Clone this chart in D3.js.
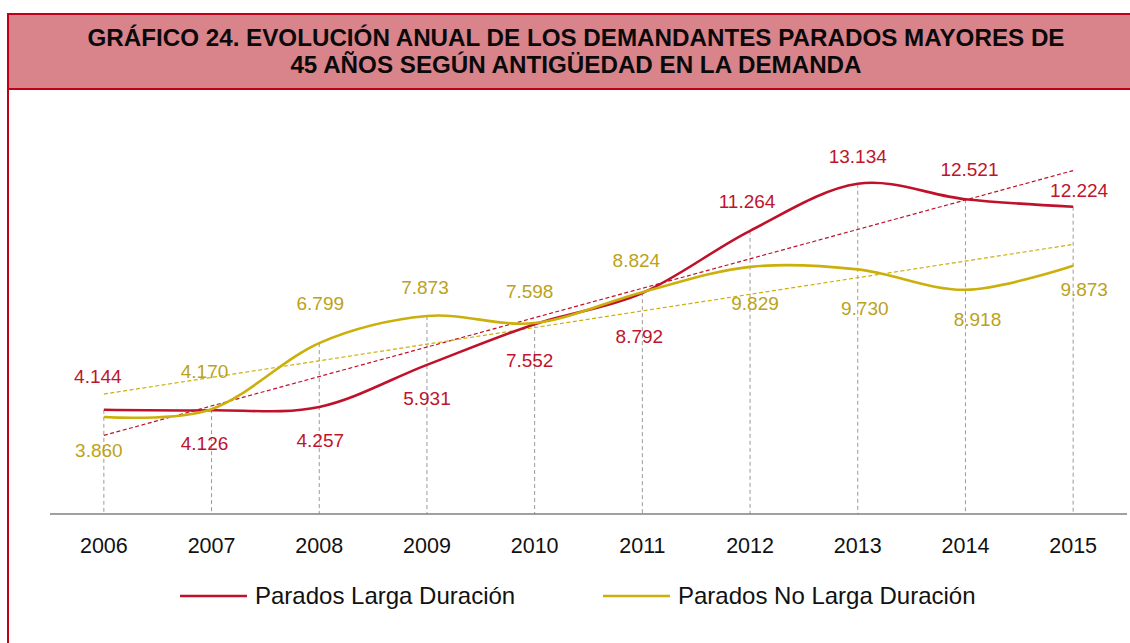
<!DOCTYPE html>
<html>
<head>
<meta charset="utf-8">
<script src="https://cdn.jsdelivr.net/npm/d3@7"></script>
<style>
  body { margin: 0; background: #fff; }
  svg { display: block; font-family: "Liberation Sans", Arial, sans-serif; }
</style>
</head>
<body>
<svg id="chart"></svg>
<script>
// datos del gráfico
const years = ["2006", "2007", "2008", "2009", "2010", "2011", "2012", "2013", "2014", "2015"];
const largaDuracion = [4144, 4126, 4257, 5931, 7552, 8792, 11264, 13134, 12521, 12224];
const noLargaDuracion = [3860, 4170, 6799, 7873, 7598, 8824, 9829, 9730, 8918, 9873];
const seriesNames = ["Parados Larga Duración", "Parados No Larga Duración"];
const titleLines = [
  "GRÁFICO 24. EVOLUCIÓN ANUAL DE LOS DEMANDANTES PARADOS MAYORES DE",
  "45 AÑOS SEGÚN ANTIGÜEDAD EN LA DEMANDA"
];

// colocación de las etiquetas (px respecto al punto)
const redLabelDy = [-27, 40, 40, 40, 43, 50, -23, -21, -23, -10];
const redLabelDx = [-6, -7, 1, 0, -5, -3, -3, 0, 4, 6];
const yelLabelDy = [40, -31, -33, -22, -25, -25, 43, 46, 36, 30];
const yelLabelDx = [-5, -7, 1, -2, -5, -6, 5, 7, 12, 11];

const W = 1130, H = 643;
const red = "#c0112b", yellow = "#cbb00c", redText = "#c0142c", yelText = "#bba21a";
const svg = d3.select("#chart").attr("width", W).attr("height", H);

// marco y título
svg.append("rect").attr("x", 8).attr("y", 14).attr("width", 1200).attr("height", 700)
  .attr("fill", "none").attr("stroke", "#c00018").attr("stroke-width", 2);
svg.append("rect").attr("x", 8).attr("y", 14).attr("width", 1200).attr("height", 75)
  .attr("fill", "#d9838a").attr("stroke", "#c00018").attr("stroke-width", 2);
svg.selectAll("text.title").data(titleLines).join("text")
  .attr("class", "title")
  .attr("x", 576).attr("y", (d, i) => 46 + i * 27)
  .attr("text-anchor", "middle")
  .attr("font-size", 24.2).attr("font-weight", "bold").attr("fill", "#0a0a0a")
  .text(d => d);

// escalas
const x = d3.scaleBand().domain(years).range([50, 1127]);
const cx = d => x(d) + x.bandwidth() / 2;
const y = d3.scaleLinear().domain([0, 14000]).range([514, 514 - 14000 * 0.02514]);

const fmt = d3.formatLocale({ decimal: ",", thousands: ".", grouping: [3], currency: ["", "€"] }).format(",d");

// líneas de caída
svg.append("g").selectAll("line").data(years).join("line")
  .attr("x1", d => cx(d)).attr("x2", d => cx(d))
  .attr("y1", (d, i) => y(Math.max(largaDuracion[i], noLargaDuracion[i])))
  .attr("y2", y(0))
  .attr("stroke", "#9a9a9a").attr("stroke-width", 1).attr("stroke-dasharray", "4,3");

// eje x
svg.append("line").attr("x1", 50).attr("x2", 1127).attr("y1", y(0)).attr("y2", y(0))
  .attr("stroke", "#808080").attr("stroke-width", 1.5);
svg.append("g").selectAll("text").data(years).join("text")
  .attr("x", d => cx(d)).attr("y", 553)
  .attr("text-anchor", "middle").attr("font-size", 21.5).attr("fill", "#111")
  .text(d => d);

// línea de tendencia (regresión lineal)
function trend(vals) {
  const n = vals.length, mx = (n - 1) / 2, my = d3.mean(vals);
  let num = 0, den = 0;
  vals.forEach((v, i) => { num += (i - mx) * (v - my); den += (i - mx) ** 2; });
  const b = num / den, a = my - b * mx;
  return [[0, a], [n - 1, a + b * (n - 1)]];
}
[[largaDuracion, red], [noLargaDuracion, yellow]].forEach(([vals, col]) => {
  const t = trend(vals);
  svg.append("line")
    .attr("x1", cx(years[t[0][0]])).attr("y1", y(t[0][1]))
    .attr("x2", cx(years[t[1][0]])).attr("y2", y(t[1][1]))
    .attr("stroke", col).attr("stroke-width", 1.2).attr("stroke-dasharray", "4,2.5");
});

// series suavizadas
const line = d3.line().x((d, i) => cx(years[i])).y(d => y(d)).curve(d3.curveCardinal.tension(0));
svg.append("path").datum(largaDuracion).attr("d", line)
  .attr("fill", "none").attr("stroke", red).attr("stroke-width", 2.6);
svg.append("path").datum(noLargaDuracion).attr("d", line)
  .attr("fill", "none").attr("stroke", yellow).attr("stroke-width", 2.6);

// etiquetas de datos
svg.append("g").selectAll("text").data(largaDuracion).join("text")
  .attr("x", (d, i) => cx(years[i]) + redLabelDx[i])
  .attr("y", (d, i) => y(d) + redLabelDy[i])
  .attr("text-anchor", "middle").attr("font-size", 19).attr("fill", redText)
  .text(d => fmt(d));
svg.append("g").selectAll("text").data(noLargaDuracion).join("text")
  .attr("x", (d, i) => cx(years[i]) + yelLabelDx[i])
  .attr("y", (d, i) => y(d) + yelLabelDy[i])
  .attr("text-anchor", "middle").attr("font-size", 19).attr("fill", yelText)
  .text(d => fmt(d));

// leyenda
const legend = [[seriesNames[0], red, 180], [seriesNames[1], yellow, 603]];
legend.forEach(([name, col, lx]) => {
  svg.append("line").attr("x1", lx).attr("x2", lx + 67).attr("y1", 596).attr("y2", 596)
    .attr("stroke", col).attr("stroke-width", 2.6);
  svg.append("text").attr("x", lx + 75).attr("y", 604)
    .attr("font-size", 24).attr("fill", "#111").text(name);
});
</script>
</body>
</html>
